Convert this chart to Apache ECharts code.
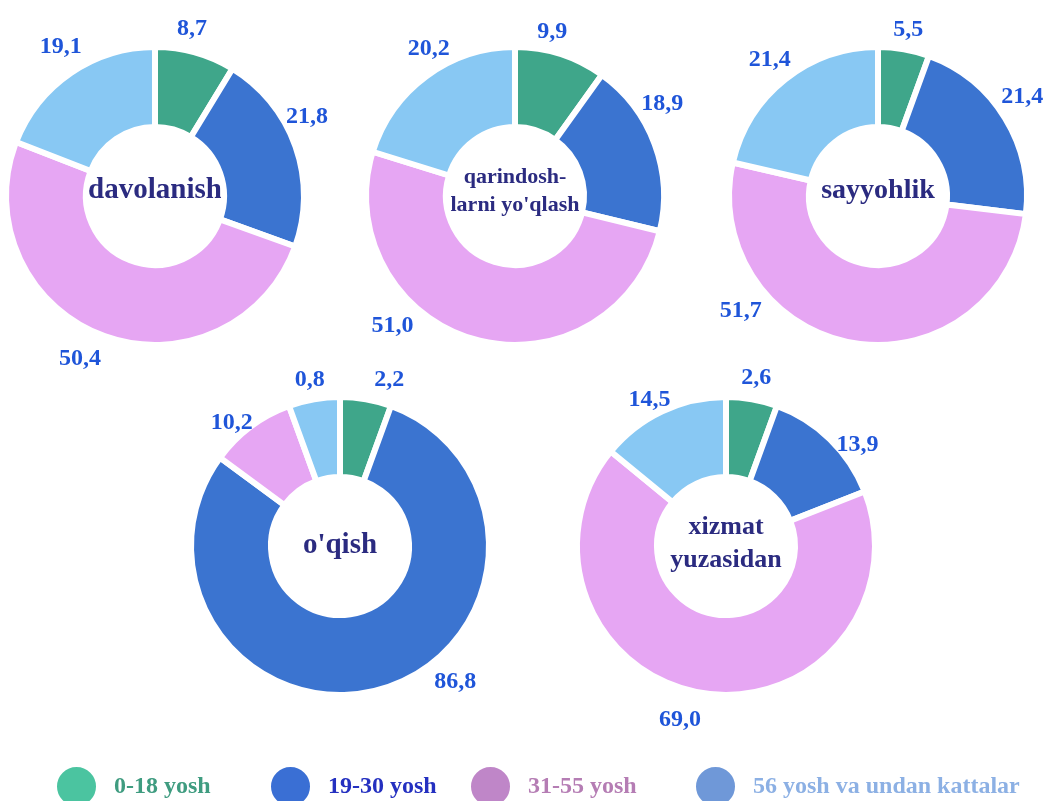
<!DOCTYPE html>
<html>
<head>
<meta charset="utf-8">
<script src="https://cdn.jsdelivr.net/npm/echarts@6/dist/echarts.min.js"></script>
<style>
  html, body { margin: 0; padding: 0; background: #fff; }
  #chart { width: 1044px; height: 801px; }
</style>
</head>
<body>
<div id="chart"></div>
<script>
// age groups (legend) and the five travel purposes
const ageGroups = ['0-18 yosh', '19-30 yosh', '31-55 yosh', '56 yosh va undan kattalar'];
const purposes = ['davolanish', "qarindosh-\nlarni yo'qlash", 'sayyohlik', "o'qish", 'xizmat\nyuzasidan'];

// shares by age group, %
const davolanish = [8.7, 21.8, 50.4, 19.1];
const qarindosh = [9.9, 18.9, 51.0, 20.2];
const sayyohlik = [5.5, 21.4, 51.7, 21.4];
const oqish = [2.2, 86.8, 10.2, 0.8];
const xizmat = [2.6, 13.9, 69.0, 14.5];
const seriesValues = [davolanish, qarindosh, sayyohlik, oqish, xizmat];

const sliceColors = ['#3fa68a', '#3b74d0', '#e6a6f3', '#88c8f3'];
const legendIconColors = ['#4bc4a0', '#3a6fd4', '#bf86c8', '#6f98d8'];
const legendTextColors = ['#3f9c80', '#2430c0', '#b57db4', '#8cb0e4'];
const legendLefts = [50, 264, 464, 689];

const centers = [[155, 196], [515, 196], [878, 196], [340, 546], [726, 546]];
const centerFontSizes = [29, 22, 28, 29, 26];
const centerLineHeights = [34, 28, 34, 34, 33];
const centerTextShift = [-5, -5, -5, 0, -2];
// small nudges of the value labels away from the slice mid-angle, as in the original
const labelNudges = [
  [[-10, 0], [-12, -21], [-14, 0], [4, -6]],
  [[-16, 1], [-16, -32], [-76, -38], [17, -7]],
  [[0, 5], [-4, -8], [-107, -57], [0, 0]],
  [[19, 5], [65, -31], [-4, 16], [0, 5]],
  [[0, 3], [10, 23], [-19, 2], [-2, 11]],
];
const FONT = '"Liberation Serif", "Times New Roman", serif';
const MIN_ANGLE = 20;

const chart = echarts.init(document.getElementById('chart'), null, { renderer: 'canvas' });

const fmt = (p) => p.value.toFixed(1).replace('.', ',');

const series = [];
seriesValues.forEach((vals, i) => {
  // the ring itself
  series.push({
    type: 'pie',
    center: centers[i],
    radius: [69, 149],
    startAngle: 90,
    minAngle: MIN_ANGLE,
    silent: true,
    itemStyle: { borderColor: '#fff', borderWidth: 6 },
    label: { show: false },
    labelLine: { show: false },
    data: vals.map((v, j) => ({ name: ageGroups[j], value: v, itemStyle: { color: sliceColors[j] } })),
  });
  // invisible outer ring that only carries the value labels
  series.push({
    type: 'pie',
    center: centers[i],
    radius: [146, 196],
    startAngle: 90,
    minAngle: MIN_ANGLE,
    silent: true,
    itemStyle: { color: 'rgba(0,0,0,0)', borderWidth: 0 },
    label: {
      show: true,
      position: 'inside',
      fontFamily: FONT,
      fontWeight: 'bold',
      fontSize: 24,
      color: '#1f55d9',
      formatter: fmt,
    },
    labelLine: { show: false },
    data: vals.map((v, j) => ({
      name: ageGroups[j],
      value: v,
      label: { offset: labelNudges[i][j] },
    })),
  });
});

const centerTexts = purposes.map((p, i) => ({
  type: 'text',
  x: centers[i][0],
  y: centers[i][1] + centerTextShift[i],
  style: {
    text: p,
    fill: '#2b2b80',
    font: 'bold ' + centerFontSizes[i] + 'px ' + FONT,
    align: 'center',
    verticalAlign: 'middle',
    lineHeight: centerLineHeights[i],
  },
}));

const legends = ageGroups.map((g, j) => ({
  left: legendLefts[j],
  top: 760,
  itemWidth: 41,
  itemHeight: 46,
  icon: 'path://M50,0A50,50,0,1,1,50,100A50,50,0,1,1,50,0Z',
  textStyle: { fontFamily: FONT, fontWeight: 'bold', fontSize: 24, padding: [0, 0, 10, 12] },
  data: [{
    name: g,
    itemStyle: { color: legendIconColors[j] },
    textStyle: { color: legendTextColors[j] },
  }],
}));

chart.setOption({
  animation: false,
  backgroundColor: '#fff',
  legend: legends,
  graphic: centerTexts,
  series: series,
});
</script>
</body>
</html>
